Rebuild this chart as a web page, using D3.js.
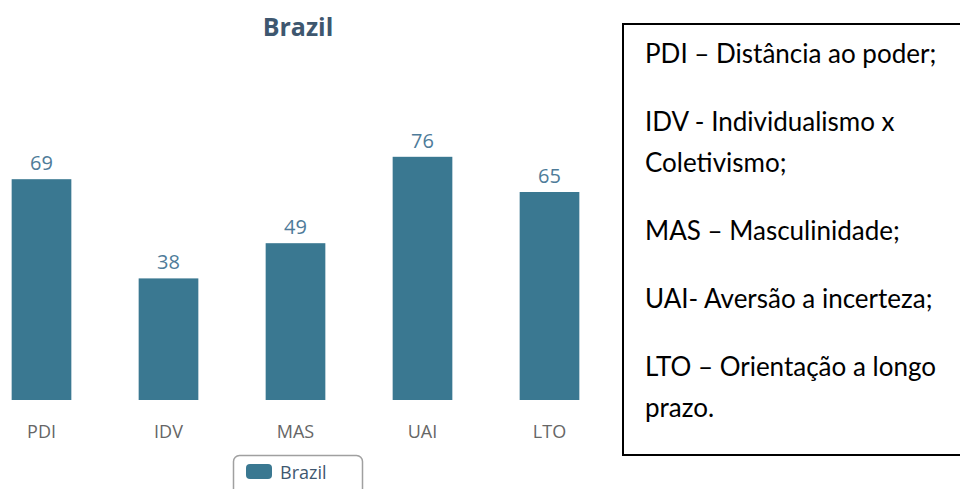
<!DOCTYPE html>
<html>
<head>
<meta charset="utf-8">
<script src="https://cdn.jsdelivr.net/npm/d3@7"></script>
<style>
  body { margin: 0; background: #fff; }
  svg { display: block; }
</style>
</head>
<body>
<div id="chart"></div>
<script>
// data
let categories = ["PDI", "IDV", "MAS", "UAI", "LTO"];
let values = [69, 38, 49, 76, 65];
let seriesName = "Brazil";
let notes = [
  ["PDI \u2013 Dist\u00e2ncia ao poder;"],
  ["IDV - Individualismo x", "Coletivismo;"],
  ["MAS \u2013 Masculinidade;"],
  ["UAI- Avers\u00e3o a incerteza;"],
  ["LTO \u2013 Orienta\u00e7\u00e3o a longo", "prazo."]
];

let width = 960,
height = 489;

let svg = d3.select("#chart")
.append("svg")
.attr("width", width)
.attr("height", height);

svg.append("rect")
.attr("width", width)
.attr("height", height)
.attr("fill", "#fff");

let barColor = "#3a7891";

let x = d3.scaleBand()
.domain(categories)
.range([-22, 613])
.paddingInner(0.53)
.paddingOuter(0.265);

let y = d3.scaleLinear()
.domain([0, 100])
.range([400, 80]);

let chart = svg.append("g");

// title
chart.append("text")
.attr("x", 298)
.attr("y", 36)
.attr("text-anchor", "middle")
.attr("font-family", "'Open Sans', sans-serif")
.attr("font-weight", "bold")
.attr("font-size", 25)
.attr("fill", "#3E576F")
.text(seriesName);

// bars
chart.selectAll(".bar")
.data(values)
.enter().append("rect")
.attr("class", "bar")
.attr("x", (d, i) => x(categories[i]))
.attr("y", d => y(d))
.attr("width", x.bandwidth())
.attr("height", d => y(0) - y(d))
.attr("fill", barColor);

// value labels
chart.selectAll(".val")
.data(values)
.enter().append("text")
.attr("class", "val")
.attr("x", (d, i) => x(categories[i]) + x.bandwidth() / 2)
.attr("y", d => y(d) - 9)
.attr("text-anchor", "middle")
.attr("font-family", "'Open Sans', sans-serif")
.attr("font-size", 20)
.attr("fill", "#4e7b99")
.text(d => d);

// category axis, no line or ticks
let xAxis = chart.append("g")
.attr("transform", "translate(0,400)")
.call(d3.axisBottom(x).tickSize(0).tickPadding(0));

xAxis.select(".domain").remove();
xAxis.selectAll("text")
.attr("dy", null)
.attr("y", 38)
.attr("font-family", "'Open Sans', sans-serif")
.attr("font-size", 18)
.attr("fill", "#666");

// legend
let legend = chart.append("g");

legend.append("rect")
.attr("x", 233.5)
.attr("y", 455.5)
.attr("width", 129)
.attr("height", 44)
.attr("rx", 6)
.attr("fill", "#fff")
.attr("stroke", "#a0a0a0")
.attr("stroke-width", 1.5);

legend.append("rect")
.attr("x", 246)
.attr("y", 464)
.attr("width", 26)
.attr("height", 15)
.attr("rx", 4)
.attr("fill", barColor);

legend.append("text")
.attr("x", 280)
.attr("y", 479)
.attr("font-family", "'Open Sans', sans-serif")
.attr("font-size", 18)
.attr("fill", "#3E576F")
.text(seriesName);

// glossary box on the right
let box = svg.append("g");

box.append("rect")
.attr("x", 623)
.attr("y", 24)
.attr("width", 345)
.attr("height", 431)
.attr("fill", "none")
.attr("stroke", "#000")
.attr("stroke-width", 2);

let lines = [];
let baseline = 63;
notes.forEach((para, p) => {
  if (p > 0) baseline += 68;
  para.forEach((t, k) => {
    if (k > 0) baseline += 41;
    lines.push({ text: t, y: baseline });
  });
});

box.selectAll("text")
.data(lines)
.enter().append("text")
.attr("x", 645)
.attr("y", d => d.y)
.attr("font-family", "Lato, 'Noto Sans', sans-serif")
.attr("font-size", 26)
.attr("fill", "#000")
.text(d => d.text);
</script>
</body>
</html>
